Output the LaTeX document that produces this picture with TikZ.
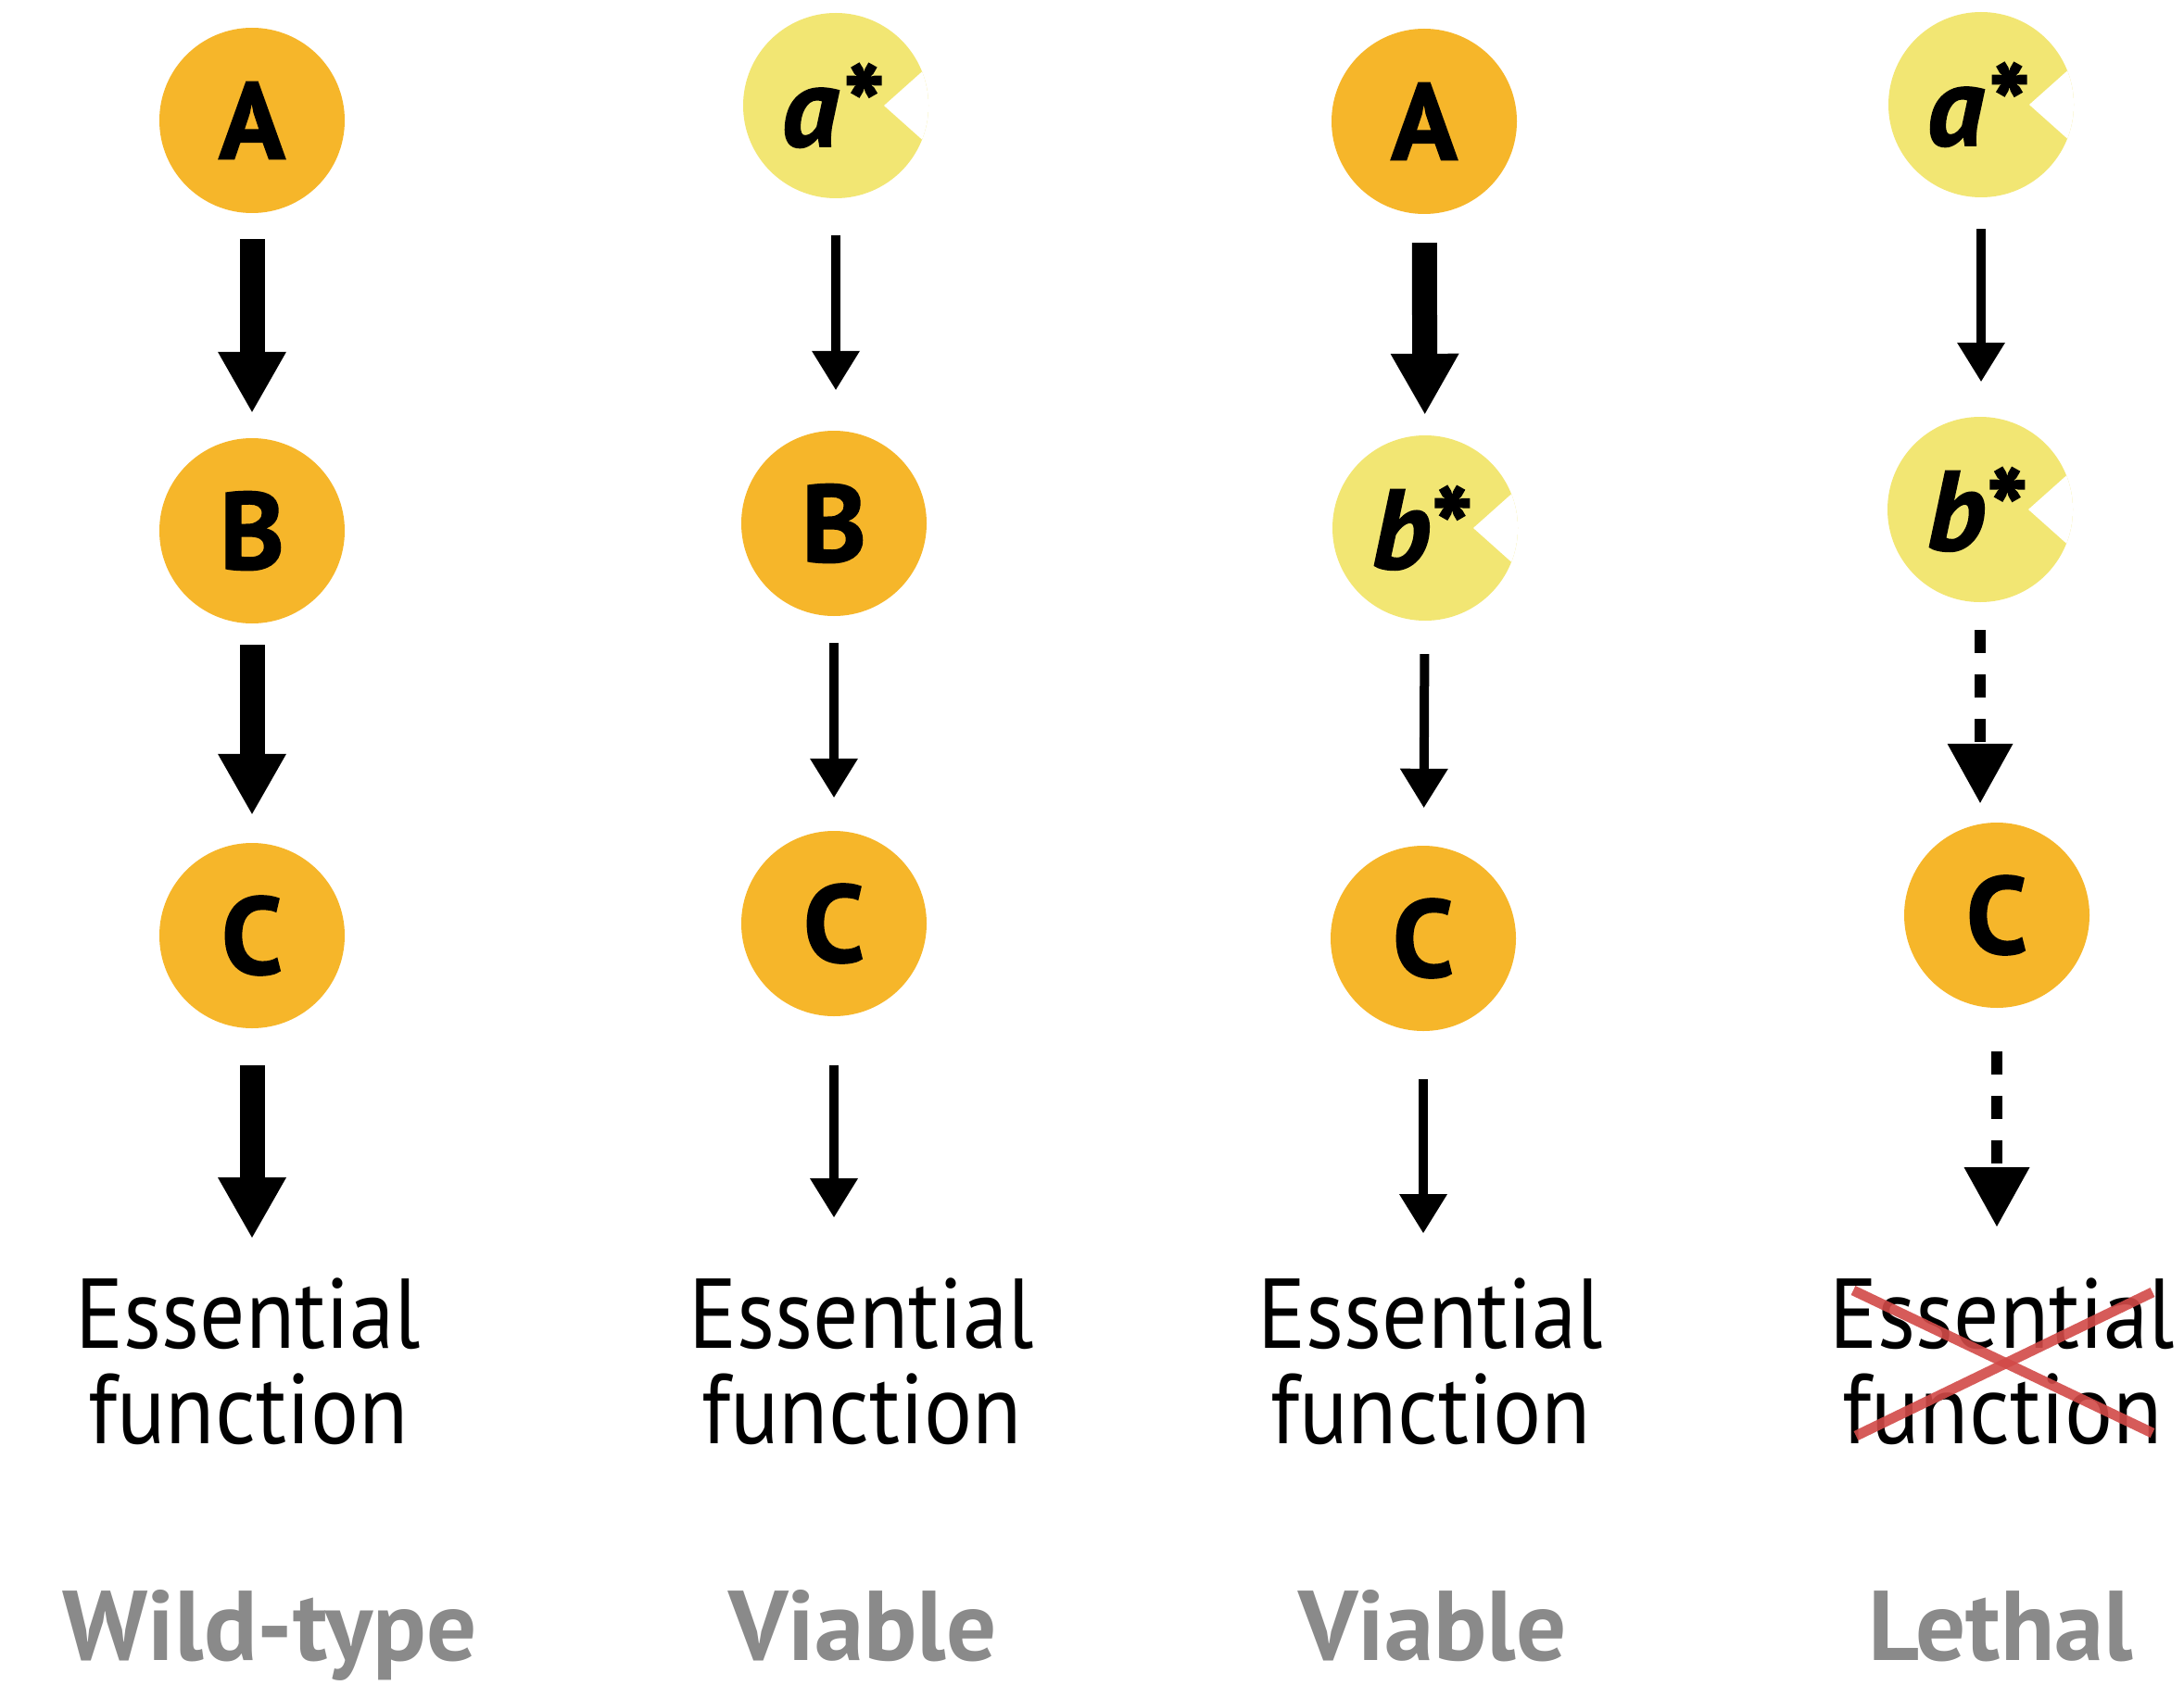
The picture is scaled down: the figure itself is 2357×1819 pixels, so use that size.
\documentclass[tikz,border=0pt]{standalone}
\usepackage{fontspec}
\setmainfont{PT Sans}
\newfontfamily\heavyfont{PT Sans}[BoldFeatures={FakeBold=1.5},BoldItalicFeatures={FakeBold=1.5}]
\newfontfamily\funcfont{PT Sans}[FakeStretch=0.91]
\usetikzlibrary{arrows.meta}
\definecolor{enzyme}{HTML}{F6B62A}
\definecolor{mutcol}{HTML}{F2E673}
\definecolor{verdictgray}{HTML}{8A8A8A}
\definecolor{crossred}{HTML}{D24A48}
\begin{document}
\begin{tikzpicture}[x=1pt,y=-1pt,
  enz/.style={circle, minimum size=200pt, inner sep=0pt, fill=enzyme,
    font=\fontsize{118}{118}\heavyfont\bfseries},
  mut/.style={circle, minimum size=200pt, inner sep=0pt, fill=mutcol,
    font=\fontsize{122}{122}\heavyfont\bfseries\itshape,
    path picture={\fill[white] ([xshift=52pt]path picture bounding box.center)
      -- ++(130pt,-116pt) -- ++(0pt,232pt) -- cycle;}},
  func/.style={align=center, anchor=base, inner sep=0pt,
    font=\fontsize{107}{103}\funcfont},
  verdict/.style={anchor=base, inner sep=0pt, text=verdictgray,
    font=\fontsize{107}{107}\selectfont\bfseries},
  strongarrow/.style={line width=27pt,
    -{Triangle[width=74pt,length=65pt,line width=0pt]}},
  weakarrow/.style={line width=10pt,
    -{Triangle[width=52pt,length=42pt,line width=0pt]}},
  brokenarrow/.style={line width=12pt, dash pattern=on 25pt off 23pt,
    -{Triangle[width=71pt,length=64pt,line width=0pt]}},
  crossline/.style={line width=11pt, draw=crossred, opacity=0.9}
]
\useasboundingbox (0,0) rectangle (2357,1819);
\fill[white] (0,0) rectangle (2357,1819);

% wild type: A -> B -> C
\node[enz] (A1) at (272,130) {A};
\node[enz] (B1) at (272,573) {B};
\node[enz] (C1) at (272,1010) {C};
\node[func] (ef1) at (268,1558) {Essential\\function};
\node[verdict] (v1) at (291,1792) {Wild-type};
\draw[strongarrow, shorten <=28pt, shorten >=28pt] (A1) -- (B1);
\draw[strongarrow, shorten <=23pt, shorten >=31pt] (B1) -- (C1);
\draw[strongarrow, shorten <=40pt, shorten >=43pt] (C1) -- (C1 |- ef1.north);

% a* mutant
\node[mut] (a2) at (902,114) {\hspace*{-12pt}a*};
\node[enz] (B2) at (900,565) {B};
\node[enz] (C2) at (900,997) {C};
\node[func] (ef2) at (930,1558) {Essential\\function};
\node[verdict] (v2) at (931,1792) {Viable};
\draw[weakarrow, shorten <=40pt, shorten >=44pt] (a2) -- (a2 |- B2.north);
\draw[weakarrow, shorten <=29pt, shorten >=36pt] (B2) -- (C2);
\draw[weakarrow, shorten <=53pt, shorten >=65pt] (C2) -- (C2 |- ef2.north);

% b* mutant
\node[enz] (A3) at (1537,131) {A};
\node[mut] (b3) at (1538,570) {\hspace*{-12pt}b*};
\node[enz] (C3) at (1536,1013) {C};
\node[func] (ef3) at (1544,1558) {Essential\\function};
\node[verdict] (v3) at (1546,1792) {Viable};
\draw[strongarrow, shorten <=31pt, shorten >=23pt] (A3) -- (b3);
\draw[weakarrow, shorten <=36pt, shorten >=41pt] (b3) -- (C3);
\draw[weakarrow, shorten <=52pt, shorten >=48pt] (C3) -- (C3 |- ef3.north);

% a* b* double mutant
\node[mut] (a4) at (2138,113) {\hspace*{-12pt}a*};
\node[mut] (b4) at (2137,550) {\hspace*{-12pt}b*};
\node[enz] (C4) at (2155,988) {C};
\node[func] (ef4) at (2161,1558) {Essential\\function};
\node[verdict] (v4) at (2159,1792) {Lethal};
\draw[weakarrow, shorten <=34pt, shorten >=38pt] (a4) -- (a4 |- b4.north);
\draw[brokenarrow, shorten <=30pt, shorten >=21pt] (b4) -- (b4 |- C4.north);
\draw[brokenarrow, shorten <=47pt, shorten >=55pt] (C4) -- (C4 |- ef4.north);

% the lost function is struck out
\draw[crossline] (2000,1393) -- (2323,1547);
\draw[crossline] (2003,1550) -- (2323,1395);
\end{tikzpicture}
\end{document}
